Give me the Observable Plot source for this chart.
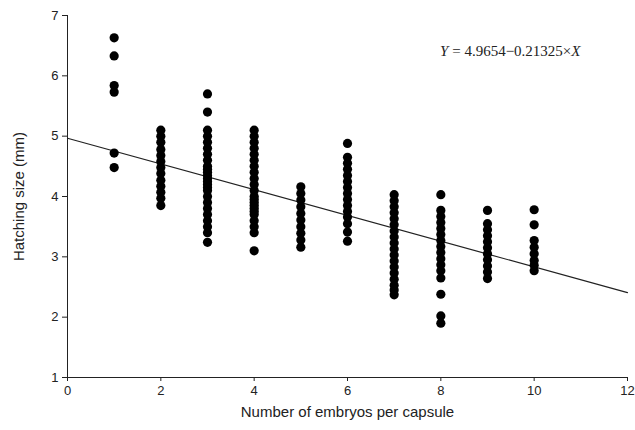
<!DOCTYPE html>
<html><head><meta charset="utf-8">
<script src="https://cdn.jsdelivr.net/npm/d3@7"></script>
<script src="https://cdn.jsdelivr.net/npm/@observablehq/plot@0.6"></script>
<style>body{margin:0;background:#fff;}</style>
</head><body><div id="chart"></div>
<script>
const embryos = [1, 2, 3, 4, 5, 6, 7, 8, 9, 10];
const size1 = [6.63, 6.33, 5.84, 5.73, 4.72, 4.48];
const size2 = [5.10, 5.00, 4.90, 4.78, 4.68, 4.58, 4.48, 4.38, 4.27, 4.17, 4.07, 3.97, 3.85];
const size3 = [5.70, 5.40, 5.10, 5.00, 4.90, 4.80, 4.70, 4.60, 4.50, 4.45, 4.40, 4.35, 4.30, 4.25, 4.20, 4.15, 4.10, 4.00, 3.90, 3.80, 3.70, 3.60, 3.50, 3.40, 3.24];
const size4 = [5.10, 5.00, 4.90, 4.80, 4.70, 4.60, 4.50, 4.40, 4.30, 4.20, 4.10, 4.00, 3.95, 3.90, 3.85, 3.80, 3.75, 3.70, 3.60, 3.50, 3.40, 3.10];
const size5 = [4.16, 4.05, 3.94, 3.83, 3.72, 3.61, 3.50, 3.39, 3.28, 3.16];
const size6 = [4.88, 4.65, 4.55, 4.45, 4.35, 4.25, 4.15, 4.05, 3.95, 3.85, 3.75, 3.66, 3.55, 3.41, 3.26];
const size7 = [4.03, 3.93, 3.83, 3.73, 3.63, 3.53, 3.43, 3.33, 3.23, 3.13, 3.03, 2.93, 2.83, 2.73, 2.63, 2.53, 2.45, 2.37];
const size8 = [4.03, 3.77, 3.67, 3.57, 3.47, 3.37, 3.27, 3.17, 3.07, 2.97, 2.87, 2.77, 2.65, 2.38, 2.02, 1.90];
const size9 = [3.77, 3.55, 3.45, 3.35, 3.25, 3.15, 3.05, 2.95, 2.85, 2.75, 2.64];
const size10 = [3.78, 3.53, 3.27, 3.16, 3.05, 2.94, 2.86, 2.77];
const xTicks = [0, 2, 4, 6, 8, 10, 12];
const yTicks = [1, 2, 3, 4, 5, 6, 7];
const intercept = 4.9654;
const slope = -0.21325;
const fitRange = [0, 12];
const equation = "Y = 4.9654\u22120.21325\u00d7X";

const columns = [size1, size2, size3, size4, size5, size6, size7, size8, size9, size10];
const points = [];
columns.forEach((vals, i) => vals.forEach(v => points.push({x: embryos[i], y: v})));
const fit = fitRange.map(x => ({x, y: intercept + slope * x}));

const chart = Plot.plot({
  width: 635, height: 430,
  marginLeft: 67, marginRight: 8, marginTop: 15, marginBottom: 53,
  style: {fontFamily: "'Liberation Sans', Arial, sans-serif", fontSize: "13px", color: "#222", background: "#fff"},
  x: {domain: [0, 12]},
  y: {domain: [1, 7]},
  marks: [
    Plot.axisX({ticks: xTicks, tickSize: 4, tickPadding: 4, tickFormat: d3.format("d"), label: null, fontSize: 13}),
    Plot.axisY({ticks: yTicks, tickSize: 5, tickPadding: 4, tickFormat: d3.format("d"), label: null, fontSize: 13}),
    Plot.ruleY([1], {stroke: "#222"}),
    Plot.ruleX([0], {stroke: "#222"}),
    Plot.line(fit, {x: "x", y: "y", stroke: "#222", strokeWidth: 1.2}),
    Plot.dot(points, {x: "x", y: "y", r: 4.6, fill: "#000", stroke: "none"}),
    Plot.text(["Number of embryos per capsule"], {frameAnchor: "bottom", dy: 39, fontSize: 15, fill: "#222"}),
    Plot.text(["Hatching size (mm)"], {frameAnchor: "left", dx: -48, rotate: -90, textAnchor: "middle", fontSize: 15, fill: "#222"}),
    Plot.text([equation], {frameAnchor: "top-right", dx: -47, dy: 30, fontSize: 15, fill: "#222", fontFamily: "'Liberation Serif', 'Times New Roman', serif"})
  ]
});
document.getElementById("chart").appendChild(chart);

// italicize the variable names in the regression equation
d3.select(chart).selectAll("text").filter(function() { return this.textContent === equation; })
  .each(function() {
    const t = d3.select(this);
    t.text(null);
    t.append("tspan").attr("font-style", "italic").text("Y");
    t.append("tspan").text(" = 4.9654\u22120.21325\u00d7");
    t.append("tspan").attr("font-style", "italic").text("X");
  });
</script>
</body></html>
